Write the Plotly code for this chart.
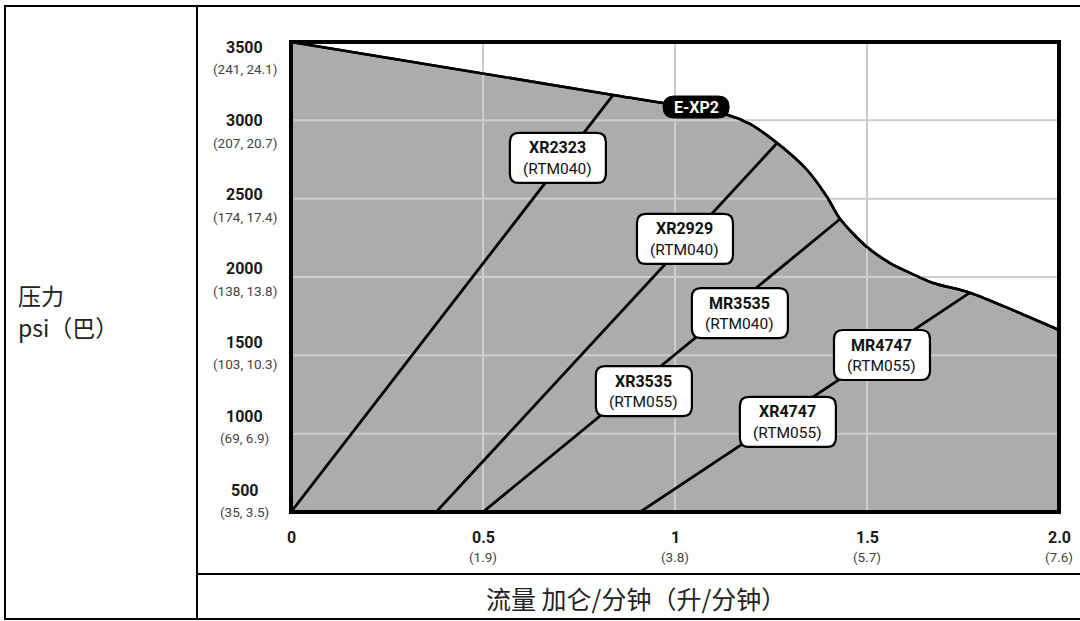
import plotly.graph_objects as go

# ---------------- data ----------------
# E-XP2 performance envelope (flow gpm, pressure psi)
exp2_flow = [0.0, 0.839, 1.060, 1.138, 1.195, 1.266, 1.344, 1.396, 1.430, 1.500,
             1.560, 1.612, 1.672, 1.768, 1.891, 2.0]
exp2_psi = [3500, 3162, 3072, 3034, 2977, 2855, 2683, 2511, 2370, 2191,
            2089, 2026, 1962, 1900, 1777, 1662]

# pump lines (start at 500 psi on the bottom, end on the envelope)
pump_flow_start = [0.0, 0.378, 0.500, 0.909]
pump_psi_start = [500, 500, 500, 500]
pump_flow_end = [0.839, 1.266, 1.430, 1.768]
pump_psi_end = [3162, 2855, 2370, 1900]

# pump labels
label_names = ["XR2323", "XR2929", "MR3535", "XR3535", "MR4747", "XR4747"]
label_codes = ["(RTM040)", "(RTM040)", "(RTM040)", "(RTM055)", "(RTM055)", "(RTM055)"]
label_flow = [0.695, 1.026, 1.169, 0.919, 1.539, 1.294]
label_psi = [2760, 2243, 1770, 1272, 1502, 1075]

envelope_name = "E-XP2"
envelope_label_flow = 1.055
envelope_label_psi = 3085

# axes
grid_flow = [0.5, 1.0, 1.5]
grid_psi = [1000, 1500, 2000, 2500, 3000]
y_tick_vals = [3500, 3000, 2500, 2000, 1500, 1000, 500]
y_tick_sub = ["(241, 24.1)", "(207, 20.7)", "(174, 17.4)", "(138, 13.8)",
              "(103, 10.3)", "(69, 6.9)", "(35, 3.5)"]
x_tick_vals = [0, 0.5, 1, 1.5, 2]
x_tick_text = ["0", "0.5", "1", "1.5", "2.0"]
x_tick_sub = ["", "(1.9)", "(3.8)", "(5.7)", "(7.6)"]

y_title_lines = ["压力", "psi（巴）"]
x_title = "流量 加仑/分钟（升/分钟）"

# ---------------- styles ----------------
SANS = "Roboto, Liberation Sans, sans-serif"
CJK = "Noto Sans CJK SC, sans-serif"
FILL = "#acacac"
GRID = "#cdcdcd"

W, H = 1080, 621
L, R, T, B = 291, 21, 42, 109
PW, PH = W - L - R, H - T - B


def pxx(px):
    return (px - L) / PW


def pxy(py):
    return (H - B - py) / PH


fig = go.Figure()

# filled envelope
fig.add_trace(go.Scatter(
    x=exp2_flow, y=exp2_psi, mode="lines", fill="tozeroy",
    fillcolor=FILL, line=dict(color="black", width=2.6, shape="spline", smoothing=0.8),
    hoverinfo="skip", showlegend=False))

# gridlines above the fill
gx, gy = [], []
for f in grid_flow:
    gx += [f, f, None]
    gy += [500, 3500, None]
for p in grid_psi:
    gx += [0, 2, None]
    gy += [p, p, None]
fig.add_trace(go.Scatter(x=gx, y=gy, mode="lines", line=dict(color=GRID, width=2),
                         hoverinfo="skip", showlegend=False))

# envelope outline again on top of the grid
fig.add_trace(go.Scatter(
    x=exp2_flow, y=exp2_psi, mode="lines",
    line=dict(color="black", width=2.6, shape="spline", smoothing=0.8),
    hoverinfo="skip", showlegend=False))

# pump lines
for xs, ys, xe, ye in zip(pump_flow_start, pump_psi_start, pump_flow_end, pump_psi_end):
    fig.add_trace(go.Scatter(x=[xs, xe], y=[ys, ye], mode="lines",
                             line=dict(color="black", width=2.8),
                             hoverinfo="skip", showlegend=False))


def rounded_rect(w, h, r):
    hw, hh = w / 2, h / 2
    return (f"M {-hw + r},{-hh} L {hw - r},{-hh} Q {hw},{-hh} {hw},{-hh + r} "
            f"L {hw},{hh - r} Q {hw},{hh} {hw - r},{hh} L {-hw + r},{hh} "
            f"Q {-hw},{hh} {-hw},{hh - r} L {-hw},{-hh + r} Q {-hw},{-hh} {-hw + r},{-hh} Z")


shapes = []
annotations = []

# label boxes
for name, code, lx, ly in zip(label_names, label_codes, label_flow, label_psi):
    shapes.append(dict(type="path", xref="x", yref="y", xsizemode="pixel", ysizemode="pixel",
                       xanchor=lx, yanchor=ly, path=rounded_rect(96, 50, 9),
                       fillcolor="white", line=dict(color="black", width=2.2), layer="above"))
    annotations.append(dict(x=lx, y=ly, xref="x", yref="y", text=f"<b>{name}</b>",
                            showarrow=False, yshift=10, xanchor="center", yanchor="middle",
                            font=dict(family=SANS, size=16, color="#111")))
    annotations.append(dict(x=lx, y=ly, xref="x", yref="y", text=code,
                            showarrow=False, yshift=-11, xanchor="center", yanchor="middle",
                            font=dict(family=SANS, size=15.5, color="#111")))

# E-XP2 pill
shapes.append(dict(type="path", xref="x", yref="y", xsizemode="pixel", ysizemode="pixel",
                   xanchor=envelope_label_flow, yanchor=envelope_label_psi,
                   path=rounded_rect(66, 22, 11), fillcolor="black",
                   line=dict(color="black", width=1), layer="above"))
annotations.append(dict(x=envelope_label_flow, y=envelope_label_psi, xref="x", yref="y",
                        text=f"<b>{envelope_name}</b>", showarrow=False,
                        font=dict(family=SANS, size=16, color="white")))

# plot frame
shapes.append(dict(type="rect", xref="paper", yref="paper", x0=0, x1=1, y0=0, y1=1,
                   line=dict(color="black", width=4), layer="above"))
# outer table frame and dividers
shapes.append(dict(type="rect", xref="paper", yref="paper", x0=pxx(5), x1=pxx(1095),
                   y0=pxy(619), y1=pxy(6), line=dict(color="black", width=2)))
shapes.append(dict(type="line", xref="paper", yref="paper", x0=pxx(197), x1=pxx(197),
                   y0=pxy(619), y1=pxy(6), line=dict(color="black", width=2)))
shapes.append(dict(type="line", xref="paper", yref="paper", x0=pxx(197), x1=pxx(1095),
                   y0=pxy(574), y1=pxy(574), line=dict(color="black", width=2)))

# y tick labels (on a hidden label axis y2)
for v, sub in zip(y_tick_vals, y_tick_sub):
    annotations.append(dict(x=0, xref="paper", xshift=-46.5, y=v, yref="y2",
                            text=f"<b>{v}</b>", showarrow=False, xanchor="center",
                            yanchor="middle", font=dict(family=SANS, size=16, color="#1a1a1a")))
    annotations.append(dict(x=0, xref="paper", xshift=-46.5, y=v, yref="y2", yshift=-22,
                            text=sub, showarrow=False, xanchor="center",
                            yanchor="middle", font=dict(family=SANS, size=13.5, color="#444")))

# x tick labels
for v, t, sub in zip(x_tick_vals, x_tick_text, x_tick_sub):
    annotations.append(dict(x=v, xref="x", y=0, yref="paper", yshift=-25,
                            text=f"<b>{t}</b>", showarrow=False, xanchor="center",
                            yanchor="middle", font=dict(family=SANS, size=16, color="#1a1a1a")))
    if sub:
        annotations.append(dict(x=v, xref="x", y=0, yref="paper", yshift=-45,
                                text=sub, showarrow=False, xanchor="center",
                                yanchor="middle", font=dict(family=SANS, size=13.5, color="#444")))

# axis titles
for line_text, py in zip(y_title_lines, [295, 327]):
    annotations.append(dict(x=pxx(16), y=pxy(py), xref="paper", yref="paper", text=line_text,
                            showarrow=False, xanchor="left", yanchor="middle", align="left",
                            font=dict(family=CJK, size=23, color="#222")))
annotations.append(dict(x=pxx(636), y=pxy(598), xref="paper", yref="paper", text=x_title,
                        showarrow=False, xanchor="center", yanchor="middle",
                        font=dict(family=CJK, size=25, color="#222")))

# label axis range: tick label centres sit at 47px (3500) and 490px (500)
lab_per_px = (3500 - 500) / (490 - 47)
y2_top = 3500 + (47 - T) * lab_per_px
y2_bot = 500 - ((H - B) - 490) * lab_per_px

fig.update_layout(
    width=W, height=H,
    margin=dict(l=L, r=R, t=T, b=B),
    paper_bgcolor="white", plot_bgcolor="white",
    xaxis=dict(range=[0, 2], showgrid=False, zeroline=False, showticklabels=False,
               ticks="", showline=False, fixedrange=True),
    yaxis=dict(range=[500, 3500], showgrid=False, zeroline=False, showticklabels=False,
               ticks="", showline=False, fixedrange=True),
    yaxis2=dict(range=[y2_bot, y2_top], overlaying="y", visible=False, fixedrange=True),
    shapes=shapes,
    annotations=annotations,
    showlegend=False,
)

fig.write_html("out.html", config={"displayModeBar": False},
               post_script="document.body.style.margin='0';document.body.style.overflow='hidden';")
